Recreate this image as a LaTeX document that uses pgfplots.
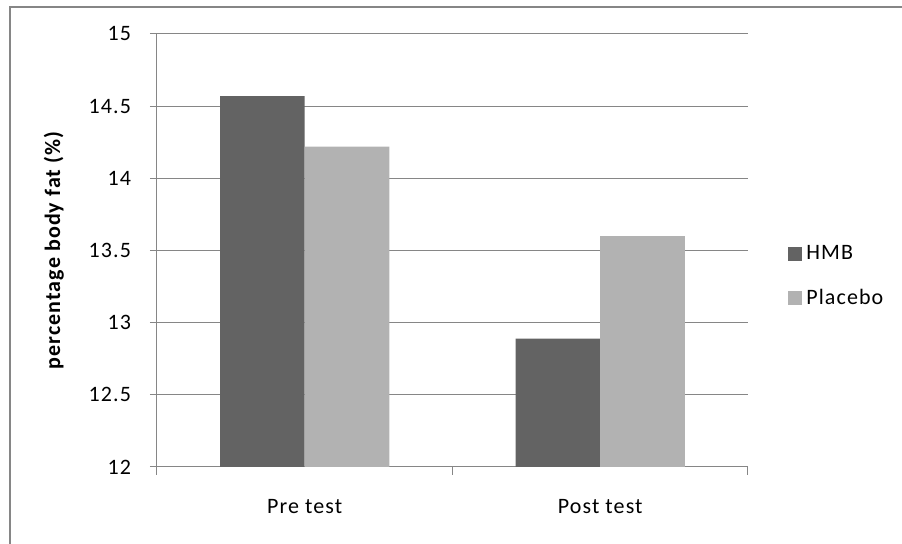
\documentclass[border=0pt]{standalone}
\usepackage{fontspec}
\setmainfont{Carlito}[LetterSpace=5]
\usepackage{pgfplots}
\pgfplotsset{compat=1.18}
\definecolor{hmb}{RGB}{99,99,99}
\definecolor{plac}{RGB}{178,178,178}
\definecolor{gridc}{RGB}{134,134,134}
\begin{document}
\begin{tikzpicture}
\useasboundingbox (0,0) rectangle (451pt,272pt);
\draw[gridc, line width=1.3pt] (5pt,0) -- (5pt,268.5pt) -- (451pt,268.5pt);
\begin{axis}[
  at={(78.5pt,38.5pt)}, anchor=south west,
  scale only axis, width=295.5pt, height=216.5pt,
  font=\fontsize{11}{13}\selectfont,
  /pgf/number format/assume math mode=true,
  ybar=0pt, bar width=0.286,
  xmin=0, xmax=2, ymin=12, ymax=15,
  xtick={0.5,1.5}, xticklabels={Pre test, Post test},
  minor xtick={0,1,2},
  ytick={12,12.5,...,15},
  yticklabels={12,12.5,13,13.5,14,14.5,15},
  major x tick style={draw=none},
  minor tick length=4pt, major tick length=3.5pt,
  tick align=outside,
  tick style={gridc, line width=0.5pt},
  axis lines*=left,
  axis line style={gridc, line width=0.5pt},
  ymajorgrids, grid style={gridc, line width=0.5pt},
  xticklabel style={yshift=-9pt},
  yticklabel style={xshift=-6pt},
  ylabel={\bfseries percentage body fat (\%)},
  ylabel style={yshift=5.5pt},
  legend style={draw=none, fill=none, at={(1,0.5)}, anchor=west, xshift=17pt, yshift=-13pt,
    row sep=9pt, font=\fontsize{11}{13}\selectfont, cells={anchor=west}},
  legend image code/.code={\fill[#1] (0pt,-3.5pt) rectangle (7pt,3.5pt);},
]
\addplot[fill=hmb, draw=none] coordinates {(0.5,14.57) (1.5,12.89)};
\addplot[fill=plac, draw=none] coordinates {(0.5,14.22) (1.5,13.60)};
\legend{HMB, Placebo}
\end{axis}
\end{tikzpicture}
\end{document}
